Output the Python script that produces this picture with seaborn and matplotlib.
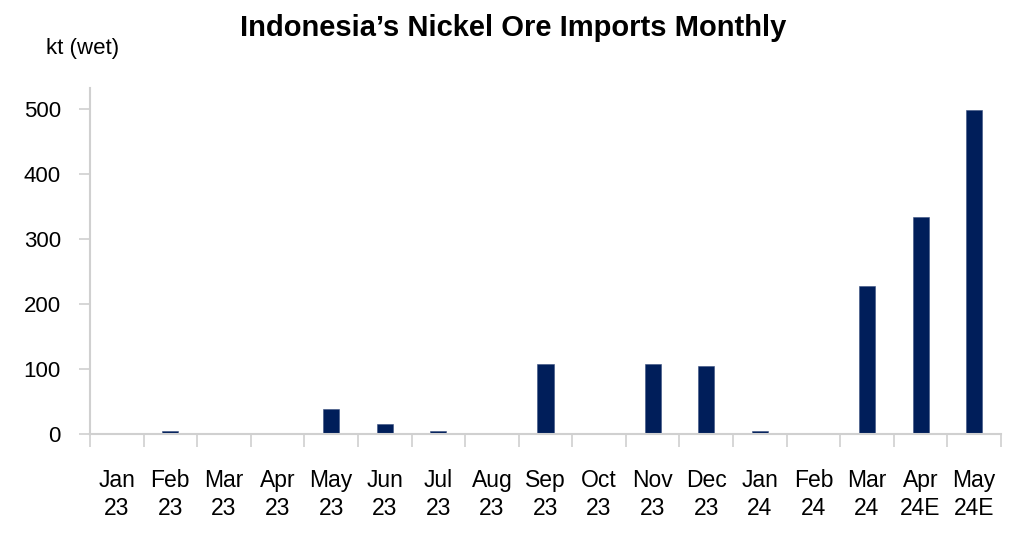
import matplotlib
matplotlib.use("Agg")
import matplotlib.pyplot as plt
import seaborn as sns
import pandas as pd

months = ["Jan\n23", "Feb\n23", "Mar\n23", "Apr\n23", "May\n23", "Jun\n23", "Jul\n23",
          "Aug\n23", "Sep\n23", "Oct\n23", "Nov\n23", "Dec\n23", "Jan\n24", "Feb\n24",
          "Mar\n24", "Apr\n24E", "May\n24E"]
imports_kt = [0, 4, 0, 0, 38, 16, 4, 0, 107, 0, 107, 104, 4, 0, 227, 333, 498]
y_ticks = [0, 100, 200, 300, 400, 500]

sns.set_theme(style="white")
plt.rcParams['font.family'] = ['Liberation Sans', 'DejaVu Sans']

df = pd.DataFrame({"month": months, "kt": imports_kt})

fig = plt.figure(figsize=(10.26, 5.4), dpi=100)
ax = fig.add_axes([0.0877, 0.1963, 0.9756 - 0.0877, 0.837 - 0.1963])

sns.barplot(data=df, x="month", y="kt", color="#001E5A", width=0.3,
            saturation=1, ax=ax, edgecolor="#3a5080", linewidth=0.4)

n = len(months)
ax.set_xlim(-0.5, n - 0.5)
ax.set_ylim(0, 532)
ax.set_yticks(y_ticks)
ax.set_yticklabels([str(v) for v in y_ticks], fontsize=16, color="black")

ax.set_xticks([i - 0.5 for i in range(n + 1)])
ax.set_xticklabels([])
ax.set_xticks(list(range(n)), minor=True)
ax.set_xticklabels(months, minor=True, fontsize=16.5, color="black", linespacing=1.32)
ax.tick_params(axis="x", which="major", direction="out", length=9, width=1.2,
               color="#d0d0d0", bottom=True)
ax.tick_params(axis="x", which="minor", length=0, pad=25, bottom=True)
ax.tick_params(axis="y", direction="out", length=8, width=1.2, color="#d0d0d0",
               left=True, pad=13)

ax.set_xlabel("")
ax.set_ylabel("")
for s in ["top", "right"]:
    ax.spines[s].set_visible(False)
for s in ["left", "bottom"]:
    ax.spines[s].set_color("#d0d0d0")
    ax.spines[s].set_linewidth(1.5)

fig.text(0.5, 0.948, "Indonesia\u2019s Nickel Ore Imports Monthly", ha="center", va="center",
         fontsize=21, fontweight="bold", color="black")
fig.text(0.08, 0.91, "kt (wet)", ha="center", va="center", fontsize=16, color="black")

fig.savefig("out.png", dpi=100)
